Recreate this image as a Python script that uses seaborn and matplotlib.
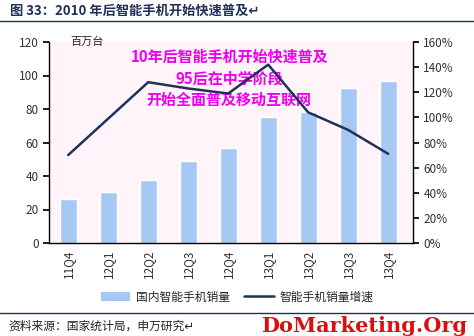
import matplotlib
matplotlib.use("Agg")
import matplotlib.pyplot as plt
import seaborn as sns
import numpy as np
import pandas as pd
from matplotlib.patches import Patch
from matplotlib.lines import Line2D

quarters = ["11Q4", "12Q1", "12Q2", "12Q3", "12Q4", "13Q1", "13Q2", "13Q3", "13Q4"]
sales = [26, 30.5, 37.5, 49, 57, 75, 78, 92.5, 96.5]
growth = [70, 99, 128, 123, 119, 142, 104, 90, 71]

sns.set_theme(style="white")
plt.rcParams['font.family'] = ['Noto Sans CJK SC', 'DejaVu Sans']

df = pd.DataFrame({"q": quarters, "sales": sales, "growth": growth, "pos": np.arange(len(quarters))})

fig = plt.figure(figsize=(4.74, 3.36), dpi=100)
ax = fig.add_axes([49/474, 1-243/336, (413-49)/474, (243-42)/336])
ax.set_facecolor("#FFF4FA")

bar_c = "#A6C8F4"
line_c = "#1F3358"
sns.barplot(data=df, x="pos", y="sales", color=bar_c, width=0.42, ax=ax, native_scale=True, saturation=1)
ax.set_xlim(-0.48, 8.62)
ax.set_ylim(0, 120)
ax.set_yticks(range(0, 121, 20))
ax.set_xticks(np.arange(len(quarters)))
ax.set_xticklabels(quarters, rotation=90, fontsize=8.5, color="#333333")
ax.set_xticks(np.arange(len(quarters)) + 0.5, minor=True)
ax.tick_params(axis="x", which="major", length=0, pad=5)
ax.tick_params(axis="x", which="minor", length=4, direction="in", color="black")
ax.tick_params(axis="y", length=4, direction="out", color="black", labelsize=8.5, labelcolor="#333333", left=True)
ax.set_xlabel("")
ax.set_ylabel("")
for s in ["top", "right"]:
    ax.spines[s].set_visible(False)
for s in ["left", "bottom"]:
    ax.spines[s].set_color("black")
    ax.spines[s].set_linewidth(1)

ax.text((70-49)/364, 1.0, "百万台", transform=ax.transAxes, fontsize=8, va="center", ha="left", color="#222222")
ann = "10年后智能手机开始快速普及\n95后在中学阶段\n开始全面普及移动互联网"
ax.text(0.495, 0.965, ann, transform=ax.transAxes, fontsize=10.8, color="#EE00EE",
        ha="center", va="top", fontweight="bold", linespacing=1.42)

ax2 = ax.twinx()
sns.lineplot(data=df, x="pos", y="growth", color=line_c, linewidth=1.8, ax=ax2, legend=False)
ax2.set_ylim(0, 160)
ax2.set_yticks(range(0, 161, 20))
ax2.set_yticklabels([f"{v}%" for v in range(0, 161, 20)])
ax2.tick_params(axis="y", length=4, direction="out", color="black", labelsize=8.5, labelcolor="#333333", right=True)
ax2.set_ylabel("")
ax2.set_xlabel("")
for s in ["top", "left", "bottom"]:
    ax2.spines[s].set_visible(False)
ax2.spines["right"].set_color("black")
ax2.spines["right"].set_linewidth(1)
ax.set_xlim(-0.48, 8.62)

handles = [Patch(facecolor=bar_c, edgecolor="none"), Line2D([0], [0], color=line_c, lw=1.8)]
fig.legend(handles, ["国内智能手机销量", "智能手机销量增速"], loc="center", bbox_to_anchor=(0.5, 1-297/336),
           ncol=2, frameon=False, fontsize=8.5, handlelength=2.5, columnspacing=1.2, handletextpad=0.5)

fig.text(10/474, 1-11/336, "图 33：2010 年后智能手机开始快速普及↵", fontsize=9.5, fontweight="bold",
         color="#1F2F5A", va="center", ha="left")
fig.add_artist(Line2D([0, 1], [1-21/336, 1-21/336], color="#1F2F5A", lw=1, transform=fig.transFigure))
fig.add_artist(Line2D([0, 1], [1-313/336, 1-313/336], color="#1F2F5A", lw=1, transform=fig.transFigure))
fig.text(8/474, 1-326/336, "资料来源：国家统计局，申万研究↵", fontsize=8.5, color="#222222", va="center", ha="left")
fig.text(467/474, 1-326/336, "DoMarketing.Org", fontsize=15, fontweight="bold", color="#D81010",
         va="center", ha="right", family=["DejaVu Serif"])

fig.savefig("out.png", dpi=100)
